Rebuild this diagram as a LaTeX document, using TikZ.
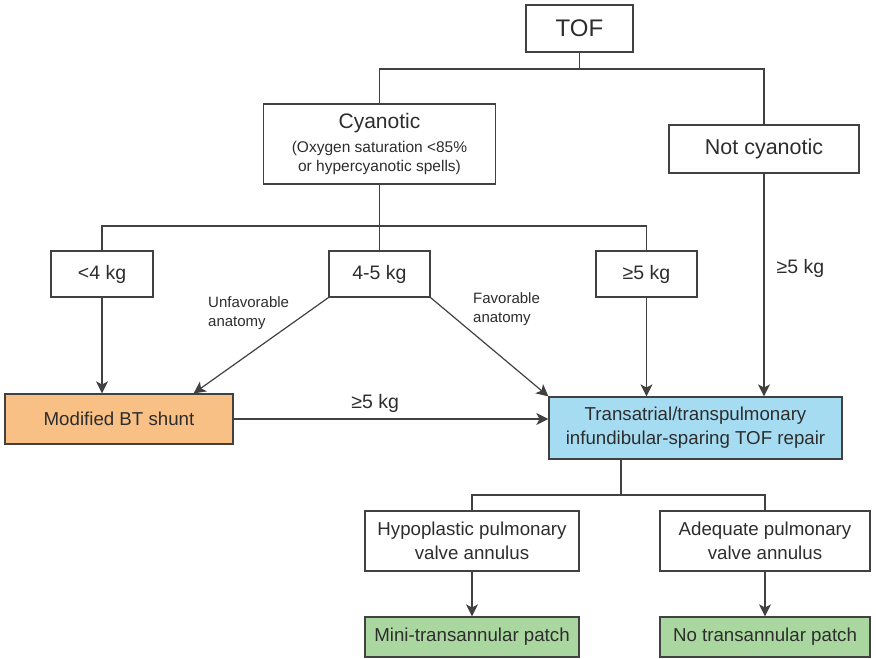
\documentclass[tikz,border=0pt]{standalone}
\usepackage{fontspec}
\setmainfont{Liberation Sans}
\usetikzlibrary{arrows.meta, positioning, calc}
\definecolor{lineclr}{RGB}{65,65,65}
\definecolor{txtclr}{RGB}{45,45,45}
\definecolor{shuntorange}{RGB}{248,192,132}
\definecolor{repairblue}{RGB}{166,220,242}
\definecolor{patchgreen}{RGB}{170,214,160}

\begin{document}
\begin{tikzpicture}[x=1pt, y=-1pt,
    box/.style={draw=lineclr, line width=1.2pt, text=txtclr, align=center, inner sep=0pt, font={\fontsize{18.7}{24}\selectfont}},
    lbl/.style={text=txtclr, align=left, inner sep=0pt},
    conn/.style={draw=lineclr, line width=1.2pt},
    arr/.style={conn, -{Stealth[length=12pt, width=12pt, inset=3pt]}}]
        \useasboundingbox (0,0) rectangle (876,659);

        % Top level
        \node[box, minimum width=107pt, minimum height=47pt, font={\fontsize{24}{30}\selectfont}] (tof) at (579.5,28.5) {TOF};
        \node[box, minimum width=232pt, minimum height=80pt, font={\fontsize{15.5}{19}\selectfont}] (cyan) at (379.5,144)
          {{\fontsize{21}{21}\selectfont Cyanotic}\\[5pt](Oxygen saturation <85\%\\or hypercyanotic spells)};
        \node[box, minimum width=190pt, minimum height=48pt, font={\fontsize{21.5}{24}\selectfont}] (notcy) at (764,149) {Not cyanotic};

        % Weight groups
        \node[box, minimum width=102pt, minimum height=46pt, font={\fontsize{19.5}{24}\selectfont}] (lt4) at (102,274) {<4 kg};
        \node[box, minimum width=101pt, minimum height=46pt, font={\fontsize{19.5}{24}\selectfont}] (mid4) at (379.5,274) {4-5 kg};
        \node[box, minimum width=101pt, minimum height=46pt, font={\fontsize{19.5}{24}\selectfont}] (ge5) at (646.5,274) {≥5 kg};

        % Procedures
        \node[box, fill=shuntorange, minimum width=228pt, minimum height=50pt] (bt) at (119,419) {Modified BT shunt};
        \node[box, fill=repairblue, minimum width=293pt, minimum height=62pt] (repair) at (695.5,428)
          {Transatrial/transpulmonary\\infundibular-sparing TOF repair};

        % Annulus
        \node[box, minimum width=214pt, minimum height=60pt] (hypo) at (472,541) {Hypoplastic pulmonary\\valve annulus};
        \node[box, minimum width=210pt, minimum height=60pt] (adeq) at (765,541) {Adequate pulmonary\\valve annulus};
        \node[box, fill=patchgreen, minimum width=214pt, minimum height=40pt] (mini) at (472,637) {Mini-transannular patch};
        \node[box, fill=patchgreen, minimum width=210pt, minimum height=40pt] (notr) at (765,637) {No transannular patch};

        % Anatomy labels
        \node[lbl, font={\fontsize{15}{19}\selectfont}, anchor=north west] (unfav) at (208,296) {Unfavorable\\anatomy};
        \node[lbl, font={\fontsize{15}{19}\selectfont}, anchor=north west] (fav) at (473,292) {Favorable\\anatomy};

        % Branch lines
        \coordinate (tofsplit) at (579.5,69);
        \draw[conn] (tof.south) -- (tofsplit);
        \draw[conn] (cyan.north) |- (tofsplit) -| (notcy.north);
        \coordinate (wsplit) at (379.5,226);
        \draw[conn] (cyan.south) -- (wsplit) -- (mid4.north);
        \draw[conn] (lt4.north) |- (wsplit) -| (ge5.north);

        % Arrows
        \draw[arr] (lt4.south) -- (lt4.south |- bt.north);
        \draw[arr] (mid4.south west) -- ([xshift=-40pt]bt.north east);
        \draw[arr] (mid4.south east) -- (repair.north west);
        \draw[arr] (ge5.south) -- (ge5.south |- repair.north);
        \draw[arr] (notcy.south) -- (notcy.south |- repair.north)
          node[lbl, font={\fontsize{19.5}{24}\selectfont}, pos=0.424, right=12pt] (ncw) {≥5 kg};
        \draw[arr] (bt.east) -- (bt.east -| repair.west)
          node[lbl, font={\fontsize{19.5}{24}\selectfont}, pos=0.45, above=6pt] (btw) {≥5 kg};

        % Repair split
        \coordinate (rsplit) at (621,495);
        \draw[conn] (repair.south -| rsplit) -- (rsplit);
        \draw[conn] (hypo.north) |- (rsplit) -| (adeq.north);
        \draw[arr] (hypo) -- (mini);
        \draw[arr] (adeq) -- (notr);
\end{tikzpicture}
\end{document}
